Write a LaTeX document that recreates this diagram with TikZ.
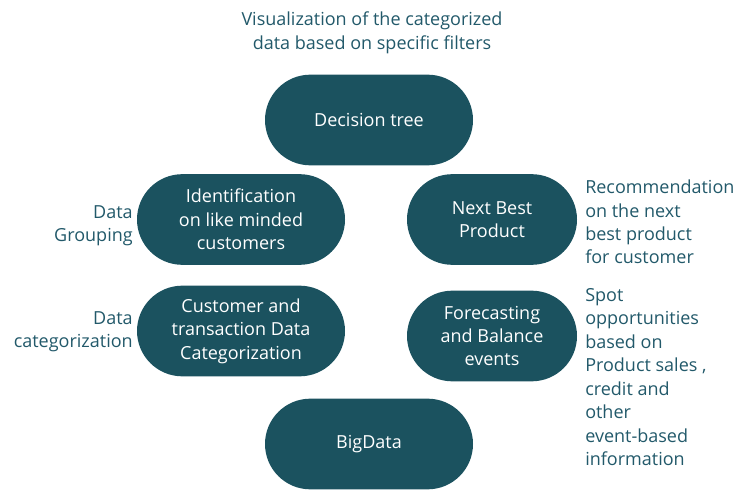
\documentclass[tikz,border=0pt]{standalone}
\usepackage{fontspec}
\setmainfont{Open Sans}
\usetikzlibrary{shapes.misc}
\definecolor{treeteal}{HTML}{1B525F}
\definecolor{noteteal}{HTML}{22596A}

\begin{document}
\begin{tikzpicture}[
    x=.75pt,y=-.75pt,
    pill/.style={rounded rectangle,minimum height=68pt,inner sep=0pt,
      fill=treeteal,text=white,align=center,
      font=\fontsize{13.5}{17.6}\selectfont},
    widepill/.style={pill,minimum width=156pt},
    narrowpill/.style={pill,minimum width=127.5pt},
    note/.style={inner sep=0pt,text=noteteal,
      font=\fontsize{13.5}{17.6}\selectfont}
  ]
  \useasboundingbox (0,0) rectangle (747,495);

  % the pills
  \node[widepill] (tree) at (369,120) {Decision tree};
  \node[widepill] (like) at (241,219.5) {Identification\\on like minded\\customers};
  \node[narrowpill] (nbp) at (492,219.5) {Next Best\\Product};
  \node[widepill] (categ) at (241,331) {Customer and\\transaction Data\\Categorization};
  \node[narrowpill] (fcast) at (492,336) {Forecasting\\and Balance\\events};
  \node[widepill] (bigdata) at (369,444) {BigData};

  % side notes
  \node[note,align=center] (treenote) at (372,33)
    {Visualization of the categorized\\data based on specific filters};
  \node[note,align=right,anchor=east] (likenote) at (133,225.5)
    {Data\\Grouping};
  \node[note,align=right,anchor=east] (categnote) at (133,331.5)
    {Data\\categorization};
  \node[note,align=left,anchor=west] (nbpnote) at (585,222)
    {Recommendation\\on the next\\best product\\for customer};
  \node[note,align=left,anchor=west] (fcastnote) at (585,377)
    {Spot\\opportunities\\based on\\Product sales ,\\credit and\\other\\event-based\\information};
\end{tikzpicture}
\end{document}
